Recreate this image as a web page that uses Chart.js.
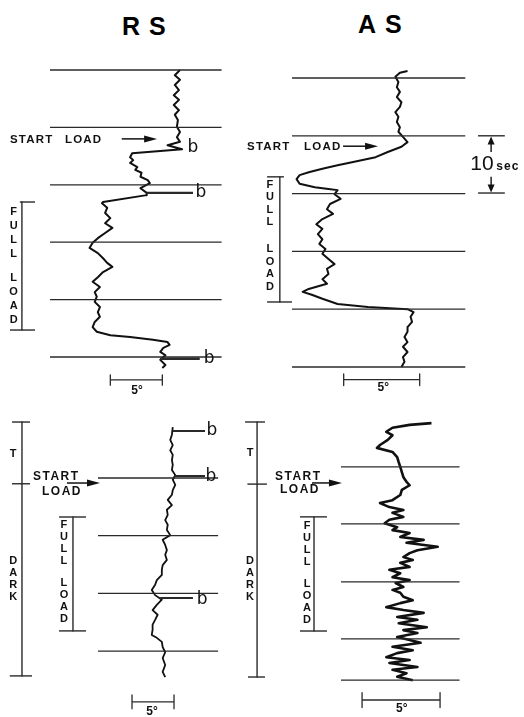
<!DOCTYPE html>
<html><head><meta charset="utf-8">
<script src="https://cdn.jsdelivr.net/npm/chart.js@4.4.1/dist/chart.umd.min.js"></script>
<style>
html,body{margin:0;padding:0;background:#fff;}
#wrap{position:relative;width:524px;height:717px;overflow:hidden;background:#fff;}
canvas{position:absolute;left:0;top:0;}
.title{position:absolute;font-family:"Liberation Sans",Arial,sans-serif;font-weight:bold;font-size:25px;line-height:25px;letter-spacing:9px;color:#000;}
</style></head><body>
<div id="wrap">
<div class="title" style="left:122px;top:14px;">RS</div>
<div class="title" style="left:358px;top:12px;">AS</div>
<canvas id="cA" width="524" height="717"></canvas>
<canvas id="cB" width="524" height="717"></canvas>
<canvas id="cC" width="524" height="717"></canvas>
<canvas id="cD" width="524" height="717"></canvas>
</div>
<script>
// ---------------- DATA (time in s, angle in degrees) ----------------
// RS, light (top left)
const rsLightTime  = [0.0,0.9,1.7,2.6,3.5,4.4,5.2,6.1,7.0,7.8,8.7,9.9,10.8,11.7,12.5,13.1,13.8,14.5,15.2,15.7,16.2,16.9,17.4,17.9,18.6,19.2,19.7,20.6,21.4,21.8,23.0,23.2,24.0,24.9,25.8,26.7,27.5,28.4,29.3,30.1,31.0,31.9,32.8,33.6,34.3,35.2,36.1,36.9,37.8,38.7,39.5,40.4,41.3,42.2,43.0,43.9,44.8,45.6,46.2,46.5,47.0,47.4,47.9,48.4,49.1,49.7,50.5,51.4,51.9];
const rsLightAngle = [12.5,12.0,12.5,12.0,12.4,11.9,12.4,11.9,12.4,12.0,12.3,12.2,12.5,12.2,12.5,11.3,12.7,7.9,7.7,8.0,7.7,8.4,8.2,8.8,8.7,9.4,9.6,8.7,9.3,9.3,5.1,5.0,5.5,5.3,5.8,5.3,6.0,5.3,4.6,4.1,3.8,4.6,5.1,5.5,6.0,5.1,4.6,4.1,4.8,4.3,4.5,4.3,4.8,4.6,4.8,4.3,4.1,4.5,5.8,7.7,9.9,11.3,11.5,10.9,10.6,11.1,10.6,11.1,10.8];
// AS, light (top right)
const asLightTime  = [-1.2,-0.9,-0.2,0.7,1.6,2.4,3.3,4.2,5.0,5.9,6.7,7.6,8.5,9.3,10.2,11.1,11.9,12.8,13.7,14.5,15.1,15.7,16.3,16.8,17.5,18.3,18.9,19.2,19.4,20.1,20.9,21.8,22.7,23.5,24.4,25.3,26.1,27.0,27.9,28.7,29.6,30.4,31.3,32.2,33.0,33.9,34.8,35.6,36.5,37.0,37.5,38.2,39.1,39.6,40.0,40.5,41.3,42.2,43.1,43.9,44.8,45.7,46.5,47.4,48.3,49.1,50.0];
const asLightAngle = [7.6,7.1,6.8,7.0,6.9,7.1,6.9,7.2,7.1,6.8,7.0,6.9,7.1,7.0,7.3,7.6,7.2,6.3,5.5,4.1,3.0,2.0,1.1,0.5,0.3,0.5,1.5,2.4,3.0,2.8,3.2,2.5,2.3,2.7,2.0,1.6,2.0,1.7,2.0,1.8,2.2,2.0,2.4,2.8,2.3,2.4,2.0,2.3,1.1,0.7,1.3,2.0,3.0,5.0,7.6,8.0,7.8,7.9,7.6,7.6,7.4,7.6,7.3,7.6,7.3,7.4,7.2];
// RS, dark (bottom left)
const rsDarkTime  = [1.2,2.5,3.4,4.3,5.2,6.0,6.9,7.7,8.6,9.5,10.3,11.2,12.1,12.9,13.8,14.7,15.5,16.4,17.3,18.1,19.0,19.9,20.7,21.6,22.5,23.3,24.2,25.1,25.9,26.8,27.7,28.5,29.4,30.3,31.1,32.0,32.9,33.7,34.6,35.4,36.3,37.2,37.7,38.4,39.3,40.2,41.2,42.4,43.6,44.5];
const rsDarkAngle = [8.9,8.8,8.6,8.9,8.6,8.9,8.8,8.9,8.8,9.2,8.9,9.2,8.9,8.8,8.3,8.8,8.2,8.3,8.0,8.3,8.2,8.6,7.7,8.0,8.2,8.0,8.2,7.7,7.6,7.6,7.0,6.8,6.4,6.8,7.6,7.0,6.5,7.1,6.8,6.5,6.5,6.4,7.0,7.6,7.7,8.0,7.7,8.0,7.7,8.0];
// AS, dark (bottom right)
const asDarkTime  = [0.2,0.5,1.0,1.7,2.3,3.1,4.0,4.5,5.2,6.1,7.0,7.8,8.7,9.6,10.4,11.0,11.8,12.7,13.6,14.1,14.8,15.3,15.8,16.5,17.0,17.6,18.3,18.8,19.3,20.0,20.5,21.0,21.7,22.3,22.8,23.5,24.0,24.5,25.2,25.7,26.3,27.0,27.5,28.0,28.7,29.2,29.7,30.4,31.0,31.5,32.2,32.7,33.2,33.9,34.4,35.0,35.7,36.2,36.7,37.4,37.9,38.4,39.1,39.7,40.2,40.9,41.4,41.9,42.6,43.1,43.7,44.3,44.9];
const asDarkAngle = [5.8,4.4,3.3,2.9,3.3,3.0,2.5,2.3,3.3,3.6,3.7,3.8,3.9,4.0,4.2,4.4,3.9,3.8,3.3,2.5,3.1,4.0,3.3,4.0,3.1,2.8,3.6,3.3,4.4,3.8,5.3,4.2,6.2,4.9,4.4,4.0,4.6,3.8,4.4,3.1,3.8,3.3,4.4,3.5,4.0,3.3,3.8,4.0,4.6,3.8,2.9,4.0,5.3,3.6,4.9,3.7,5.5,4.0,4.9,3.6,4.4,5.1,3.3,4.6,3.6,2.9,4.4,3.1,4.9,3.3,4.2,3.6,4.6];

// time marks (s)
const marksA = [0,10,20,30,40,50];
const marksB = [0,10,20,30,40,50];
const marksC = [10,20,30,40];
const marksD = [7.8,17.7,27.8,37.7,44.9];
// "b" blips: [time, angle from, angle to]
const blipsA = [[21.4,9.3,13.75],[50.3,10.6,14.4]];
const blipsC = [[1.85,8.9,12.74],[9.65,9.1,12.74],[30.8,7.4,11.3]];
const blipLabelsA = [[13.6,13.75],[21.4,14.5],[50.3,15.3]];
const blipLabelsC = [[1.85,13.57],[9.7,13.45],[31.0,12.4]];
// event intervals (s)
const fullLoadA = [23.0,45.3];
const fullLoadB = [17.1,38.75];
const fullLoadC = [16.76,36.5];
const fullLoadD = [16.5,36.35];
const darkC = [0.3,11.0,44.3];   // start, start-load tick, end
const darkD = [0.0,10.8,44.35];
const tenSecB = [10.0,19.9];
const scaleDeg = 5;
const scaleLabel = '5°';
const tenLabel = ['10','sec'];
const startLabel = ['START','LOAD'];
const fullLabel = 'FULL LOAD';
const darkLabel = 'DARK';
const tLabel = 'T';

// ---------------- LAYOUT ----------------
const W=524,H=717;
const LAY = {
  A:{x0:50,pxDeg:10.4,y0:70,pxSec:5.74,lines:[0,16.5],trace:2.0},
  B:{x0:292,pxDeg:15.2,y0:78,pxSec:5.78,lines:[0,11.4],trace:2.0},
  C:{x0:98,pxDeg:8.4,y0:420.3,pxSec:5.77,lines:[0,14.3],trace:1.8},
  D:{x0:341,pxDeg:15.6,y0:422,pxSec:5.75,lines:[0,7.6],trace:2.6}
};
const INK='#111', LINE='#2a2a2a';
const F_LAB='bold 11.5px "Liberation Sans", Arial, sans-serif';
const F_LAB2='bold 12px "Liberation Sans", Arial, sans-serif';
const F_B='17px "DejaVu Sans", sans-serif';
const F_V='bold 11px "Liberation Sans", Arial, sans-serif';

function seg(pts,w,color){
  return {data:pts.map(p=>({x:p[0],y:p[1]})),borderColor:color||LINE,borderWidth:w,
    pointRadius:0,showLine:true,fill:false,tension:0,borderJoinStyle:'round',borderCapStyle:'butt'};
}
function hline(t,a,b,w){return seg([[a,t],[b,t]],w);}
function vline(d,t1,t2,w){return seg([[d,t1],[d,t2]],w);}

const annot={
  id:'annot',
  afterDatasetsDraw(chart,args,opts){
    const {ctx}=chart, sx=chart.scales.x, sy=chart.scales.y;
    const P=(d,t)=>[sx.getPixelForValue(d),sy.getPixelForValue(t)];
    ctx.save();
    ctx.fillStyle=INK; ctx.strokeStyle=INK;
    for(const a of (opts.items||[])){
      if(a.type==='text'){
        ctx.font=a.font; ctx.letterSpacing=a.ls||'0px';
        ctx.textAlign=a.align||'left'; ctx.textBaseline='middle';
        const [px,py]=P(a.d,a.t); ctx.fillText(a.text,px,py);
      } else if(a.type==='vtext'){
        ctx.font=a.font; ctx.letterSpacing='0px';
        ctx.textAlign='center'; ctx.textBaseline='middle';
        let [px,py]=P(a.d,a.t);
        for(const ch of a.text){
          if(ch===' '){py+=a.gap;continue;}
          ctx.fillText(ch,px,py); py+=a.step;
        }
      } else if(a.type==='arrow'){
        const [x1,y1]=P(a.d1,a.t1), [x2,y2]=P(a.d2,a.t2);
        const ang=Math.atan2(y2-y1,x2-x1), len=a.len||12, half=a.half||3.5;
        const bx=x2-len*Math.cos(ang), by=y2-len*Math.sin(ang);
        ctx.lineWidth=a.lw||1.5;
        ctx.beginPath(); ctx.moveTo(x1,y1); ctx.lineTo(bx+Math.cos(ang),by+Math.sin(ang)); ctx.stroke();
        ctx.beginPath(); ctx.moveTo(x2,y2);
        ctx.lineTo(bx+half*Math.sin(ang),by-half*Math.cos(ang));
        ctx.lineTo(bx-half*Math.sin(ang),by+half*Math.cos(ang));
        ctx.closePath(); ctx.fill();
      }
    }
    ctx.restore();
  }
};

function panel(id,L,times,angles,marks,extra,items){
  const ds=[];
  marks.forEach(t=>ds.push(hline(t,L.lines[0],L.lines[1],1.3)));
  extra.forEach(e=>ds.push(e));
  ds.push(seg(times.map((t,i)=>[angles[i],t]),L.trace,INK));
  new Chart(document.getElementById(id),{
    type:'scatter',
    data:{datasets:ds},
    options:{
      responsive:false,animation:false,events:[],
      layout:{padding:0},
      plugins:{legend:{display:false},tooltip:{enabled:false},title:{display:false},annot:{items}},
      scales:{
        x:{type:'linear',display:false,min:-L.x0/L.pxDeg,max:(W-L.x0)/L.pxDeg},
        y:{type:'linear',display:false,reverse:true,min:-L.y0/L.pxSec,max:(H-L.y0)/L.pxSec}
      }
    },
    plugins:[annot]
  });
}
function scaleBar(t,d0,h){
  return [hline(t,d0,d0+scaleDeg,1.3),vline(d0,t-h,t+h,1.3),vline(d0+scaleDeg,t-h,t+h,1.3)];
}
function bracket(d,t1,t2,capTop,capBot){
  return [vline(d,t1,t2,1.4),hline(t1,capTop[0],capTop[1],1.4),hline(t2,capBot[0],capBot[1],1.4)];
}

// Panel A : RS light
panel('cA',LAY.A,rsLightTime,rsLightAngle,marksA,[
  ...bracket(-2.7,fullLoadA[0],fullLoadA[1],[-2.9,-1.44],[-3.85,-1.44]),
  ...scaleBar(54.0,5.8,0.9),
  ...blipsA.map(b=>hline(b[0],b[1],b[2],2.4))
],[
  {type:'text',text:startLabel[0],d:-3.85,t:12.1,font:F_LAB,ls:'1.2px'},
  {type:'text',text:startLabel[1],d:1.44,t:12.1,font:F_LAB,ls:'1.2px'},
  {type:'arrow',d1:6.9,t1:12.0,d2:10.3,t2:12.0,len:13,half:3.5},
  ...blipLabelsA.map(b=>({type:'text',text:'b',d:b[1],t:b[0],font:F_B,align:'center'})),
  {type:'vtext',text:fullLabel,d:-3.5,t:24.7,step:14,gap:10,font:F_V},
  {type:'text',text:scaleLabel,d:8.37,t:55.9,font:F_LAB2,align:'center'}
]);

// Panel B : AS light
panel('cB',LAY.B,asLightTime,asLightAngle,marksB,[
  ...bracket(-0.8,fullLoadB[0],fullLoadB[1],[-1.64,-0.53],[-1.64,0]),
  ...scaleBar(52.2,3.4,1.0),
  hline(tenSecB[0],12.24,14.0,1.4),hline(tenSecB[1],12.24,14.0,1.4)
],[
  {type:'text',text:startLabel[0],d:-2.96,t:11.9,font:F_LAB,ls:'1.2px'},
  {type:'text',text:startLabel[1],d:0.79,t:11.9,font:F_LAB,ls:'1.2px'},
  {type:'arrow',d1:3.36,t1:11.8,d2:5.66,t2:11.8,len:13,half:3.5},
  {type:'arrow',d1:13.1,t1:12.8,d2:13.1,t2:tenSecB[0]+0.1,len:8,half:3.5,lw:1.4},
  {type:'arrow',d1:13.1,t1:17.1,d2:13.1,t2:tenSecB[1]-0.1,len:8,half:3.5,lw:1.4},
  {type:'text',text:tenLabel[0],d:12.5,t:15.0,font:'21px "Liberation Sans", Arial, sans-serif',align:'center'},
  {type:'text',text:tenLabel[1],d:14.2,t:15.4,font:'bold 12px "Liberation Sans", Arial, sans-serif',align:'center',ls:'1px'},
  {type:'vtext',text:fullLabel,d:-1.45,t:18.5,step:12.5,gap:14.5,font:F_V},
  {type:'text',text:scaleLabel,d:6.0,t:53.6,font:F_LAB2,align:'center'}
]);

// Panel C : RS dark
panel('cC',LAY.C,rsDarkTime,rsDarkAngle,marksC,[
  vline(-9.05,darkC[0],darkC[2],1.4),
  hline(darkC[0],-10.24,-8.1,1.4),hline(darkC[1],-10.24,-8.1,1.4),hline(darkC[2],-10.5,-7.86,1.4),
  ...bracket(-2.98,fullLoadC[0],fullLoadC[1],[-4.64,-1.43],[-4.64,-1.43]),
  ...scaleBar(48.8,4.05,1.2),
  ...blipsC.map(b=>hline(b[0],b[1],b[2],2.0))
],[
  {type:'text',text:startLabel[0],d:-7.74,t:9.83,font:F_LAB2,ls:'1.5px'},
  {type:'text',text:startLabel[1],d:-6.67,t:12.4,font:F_LAB2,ls:'1.5px'},
  {type:'arrow',d1:-3.7,t1:10.87,d2:0.24,t2:10.87,len:13,half:3.5},
  ...blipLabelsC.map(b=>({type:'text',text:'b',d:b[1],t:b[0],font:F_B,align:'center'})),
  {type:'vtext',text:tLabel,d:-10.1,t:5.84,step:12,gap:10,font:F_V},
  {type:'vtext',text:darkLabel,d:-10.1,t:24.4,step:12,gap:10,font:F_V},
  {type:'vtext',text:fullLabel,d:-4.05,t:18.1,step:12,gap:10,font:F_V},
  {type:'text',text:scaleLabel,d:6.43,t:50.5,font:F_LAB2,align:'center'}
]);

// Panel D : AS dark
panel('cD',LAY.D,asDarkTime,asDarkAngle,marksD,[
  vline(-5.38,darkD[0],darkD[2],1.4),
  hline(darkD[0],-6.15,-4.87,1.4),hline(darkD[1],-6.0,-4.75,1.4),hline(darkD[2],-5.96,-4.87,1.4),
  ...bracket(-1.73,fullLoadD[0],fullLoadD[1],[-2.63,-0.9],[-2.63,-0.9]),
  ...scaleBar(48.35,1.35,1.3)
],[
  {type:'text',text:startLabel[0],d:-4.23,t:9.57,font:F_LAB2,ls:'1.5px'},
  {type:'text',text:startLabel[1],d:-3.91,t:11.83,font:F_LAB2,ls:'1.5px'},
  {type:'arrow',d1:-1.86,t1:10.6,d2:0.06,t2:10.6,len:13,half:3.5},
  {type:'vtext',text:tLabel,d:-5.83,t:5.4,step:12,gap:10,font:F_V},
  {type:'vtext',text:darkLabel,d:-5.83,t:24.2,step:12,gap:10,font:F_V},
  {type:'vtext',text:fullLabel,d:-2.18,t:18.1,step:12,gap:10,font:F_V},
  {type:'text',text:scaleLabel,d:3.9,t:49.9,font:F_LAB2,align:'center'}
]);
</script>
</body></html>
